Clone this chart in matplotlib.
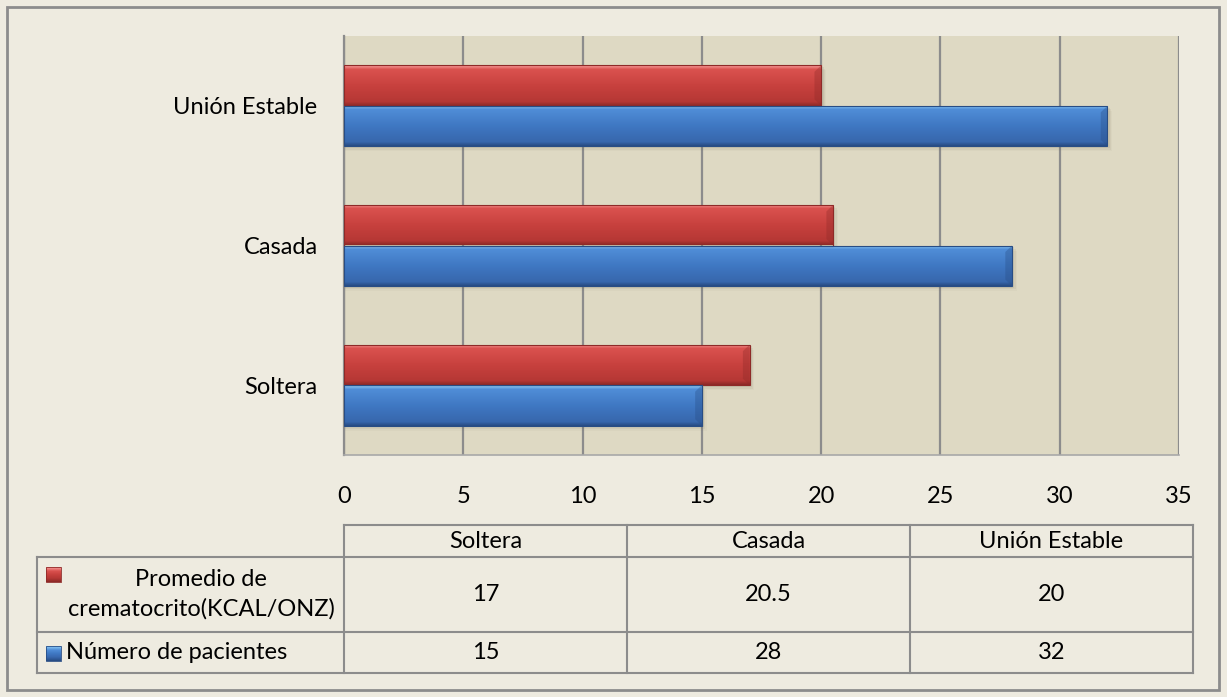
import numpy as np
import matplotlib
matplotlib.use("Agg")
import matplotlib.pyplot as plt
from matplotlib.patches import Rectangle
from matplotlib.colors import LinearSegmentedColormap

# estado civil vs. pacientes y crematocrito
categories = ["Soltera", "Casada", "Unión Estable"]
series_names = ["Promedio de\ncrematocrito(KCAL/ONZ)", "Número de pacientes"]
crematocrito = [17, 20.5, 20]
pacientes = [15, 28, 32]
x_ticks = [0, 5, 10, 15, 20, 25, 30, 35]

plt.rcParams["font.family"] = ["Lato", "DejaVu Sans"]
FS = 17

W, H = 1227, 697
BG = "#EEEBE0"
PLOT_BG = "#DED9C3"
LINE = "#8C8C8C"

RED = ["#F79A98", "#D9514E", "#C8413E", "#B63835", "#8E2A28"]
BLUE = ["#8CCBF7", "#4F8CD6", "#3F78C3", "#3868AE", "#284D85"]


def px(x0, y0, x1, y1):
    # pixel box (top-left origin) -> figure fraction rect
    return [x0 / W, 1 - y1 / H, (x1 - x0) / W, (y1 - y0) / H]


def gradient_bar(ax, y, width, height, colors):
    bottom = y - height / 2
    # soft drop shadow
    for i, a in enumerate([0.10, 0.07, 0.04]):
        off = 0.012 * (i + 1)
        ax.add_patch(Rectangle((0.05, bottom - off), width + 0.05 * (i + 1), height,
                               facecolor="#6E6650", edgecolor="none", alpha=a, zorder=2))
    rect = Rectangle((0, bottom), width, height, facecolor="none",
                     edgecolor=colors[-1], lw=0.8, zorder=4)
    ax.add_patch(rect)
    cmap = LinearSegmentedColormap.from_list("bar", colors)
    grad = np.concatenate([np.linspace(0, 0.25, 6), np.linspace(0.25, 0.75, 40),
                           np.linspace(0.75, 1, 6)]).reshape(-1, 1)
    im = ax.imshow(grad, cmap=cmap, vmin=0, vmax=1, aspect="auto", origin="upper",
                   extent=(0, width, bottom, bottom + height), zorder=3,
                   interpolation="bilinear")
    im.set_clip_path(rect)
    # bevelled right end
    d = 0.28
    dy = height * 0.16
    ax.fill([width - d, width, width, width - d],
            [bottom + height - dy, bottom + height, bottom, bottom + dy],
            color=colors[-1], alpha=0.35, lw=0, zorder=3.5)


fig = plt.figure(figsize=(W / 100, H / 100), dpi=100, facecolor=BG)

# overlay for frame and table
over = fig.add_axes([0, 0, 1, 1])
over.set_xlim(0, W)
over.set_ylim(H, 0)
over.axis("off")
over.add_patch(Rectangle((7, 7), 1212, 683, facecolor="none", edgecolor=LINE, lw=2))

ax = fig.add_axes(px(344, 36, 1179, 455))
ax.set_facecolor(PLOT_BG)
ypos = np.arange(len(categories))
bh = 0.29
for i in ypos:
    gradient_bar(ax, i + bh / 2, crematocrito[i], bh, RED)
    gradient_bar(ax, i - bh / 2, pacientes[i], bh, BLUE)

ax.set_xlim(0, 35)
ax.set_ylim(-0.5, len(categories) - 0.5)
ax.set_xticks(x_ticks)
ax.set_xticklabels([str(t) for t in x_ticks], fontsize=FS)
ax.set_yticks(ypos)
ax.set_yticklabels(categories, fontsize=FS)
ax.tick_params(axis="both", length=0)
ax.tick_params(axis="x", pad=22)
ax.tick_params(axis="y", pad=19)
ax.grid(axis="x", color=LINE, lw=1.6, zorder=1)
ax.set_axisbelow(True)
for s in ["top", "right"]:
    ax.spines[s].set_visible(False)
ax.spines["left"].set_color(LINE)
ax.spines["left"].set_linewidth(1.6)
ax.spines["bottom"].set_color("#A8A8A8")
ax.spines["bottom"].set_linewidth(1.2)

# data table under the chart
cols = [344, 627, 910, 1193]
rows = [525, 557, 632, 673]
left = 37
tl = dict(color=LINE, lw=1.5)
over.plot([cols[0], cols[-1]], [rows[0], rows[0]], **tl)
for r in rows[1:]:
    over.plot([left, cols[-1]], [r, r], **tl)
for c in cols:
    over.plot([c, c], [rows[0], rows[-1]], **tl)
over.plot([left, left], [rows[1], rows[-1]], **tl)

for j, name in enumerate(categories):
    cx = (cols[j] + cols[j + 1]) / 2
    over.text(cx, (rows[0] + rows[1]) / 2, name, ha="center", va="center", fontsize=FS)
    over.text(cx, (rows[1] + rows[2]) / 2, f"{crematocrito[j]:g}", ha="center", va="center", fontsize=FS)
    over.text(cx, (rows[2] + rows[3]) / 2, f"{pacientes[j]:g}", ha="center", va="center", fontsize=FS)

# legend keys inside row headers
def key(x, y, colors):
    r = Rectangle((x, y), 15, 15, facecolor="none", edgecolor=colors[-1], lw=0.6)
    over.add_patch(r)
    grad = np.linspace(0, 1, 16).reshape(-1, 1)
    cmap = LinearSegmentedColormap.from_list("k", colors)
    im = over.imshow(grad, cmap=cmap, extent=(x, x + 15, y + 15, y), aspect="auto",
                     origin="upper", interpolation="bilinear")
    im.set_clip_path(r)


key(46, 567, RED)
key(46, 646, BLUE)
over.set_xlim(0, W)
over.set_ylim(H, 0)
over.text(201, (rows[1] + rows[2]) / 2, series_names[0], ha="center", va="center",
          fontsize=FS, linespacing=1.45)
over.text(66, (rows[2] + rows[3]) / 2, series_names[1], ha="left", va="center", fontsize=FS)

fig.savefig("out.png", dpi=100, facecolor=BG)
